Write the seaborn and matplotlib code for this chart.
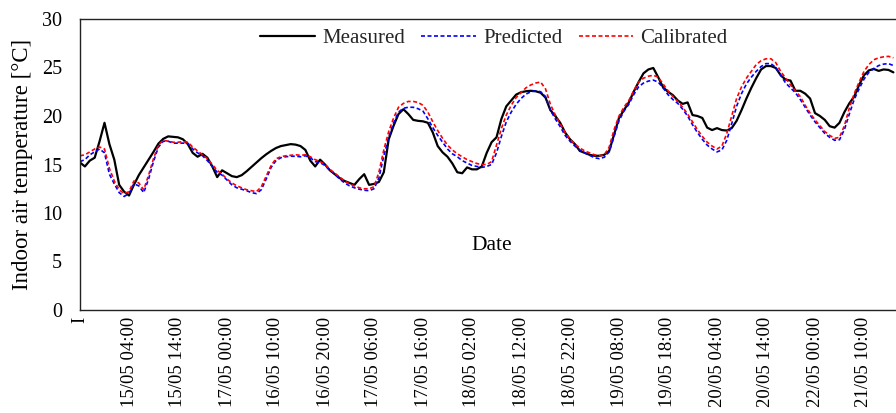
import matplotlib
matplotlib.use("Agg")
import matplotlib.pyplot as plt
import seaborn as sns
import pandas as pd
import numpy as np

# Hourly readings (hour index from the start of the record)
measured = [
    15.2, 14.8, 15.4, 15.7, 17.4, 19.3, 17.1, 15.5, 12.9, 12.2,
    11.8, 12.9, 13.9, 14.7, 15.5, 16.3, 17.15, 17.65, 17.9, 17.85,
    17.8, 17.6, 17.1, 16.2, 15.8, 16.1, 15.7, 14.8, 13.7, 14.4,
    14.1, 13.8, 13.7, 13.9, 14.3, 14.75, 15.2, 15.65, 16.05, 16.4,
    16.7, 16.9, 17.0, 17.1, 17.05, 16.9, 16.5, 15.4, 14.8, 15.5,
    15.0, 14.4, 14.0, 13.6, 13.3, 13.1, 12.9, 13.5, 14.0, 12.9,
    13.0, 13.2, 14.2, 17.6, 19.0, 20.2, 20.7, 20.2, 19.6, 19.5,
    19.45, 19.3, 18.3, 16.9, 16.25, 15.8, 15.1, 14.2, 14.1, 14.7,
    14.5, 14.5, 14.8, 16.2, 17.3, 17.8, 19.7, 21.0, 21.6, 22.2,
    22.45, 22.55, 22.6, 22.55, 22.4, 21.9, 20.6, 20.0, 19.3, 18.3,
    17.6, 17.1, 16.4, 16.2, 16.0, 15.9, 15.9, 16.0, 16.4, 18.1,
    19.8, 20.6, 21.4, 22.5, 23.5, 24.4, 24.8, 24.95, 24.0, 22.95,
    22.5, 22.15, 21.6, 21.25, 21.4, 20.1, 20.0, 19.8, 18.8, 18.55,
    18.75, 18.55, 18.5, 18.75, 19.5, 20.6, 21.8, 22.9, 23.9, 24.8,
    25.15, 25.15, 24.95, 24.2, 23.75, 23.65, 22.6, 22.6, 22.3, 21.8,
    20.3, 20.0, 19.6, 18.95, 18.8, 19.3, 20.4, 21.3, 22.0, 23.2,
    24.2, 24.7, 24.85, 24.65, 24.8, 24.75, 24.5,
]
predicted = [
    15.3, 15.5, 16.0, 16.3, 16.6, 16.2, 14.0, 13.0, 12.1, 11.7,
    12.0, 13.0, 12.8, 12.1, 13.5, 15.3, 16.8, 17.4, 17.4, 17.2,
    17.2, 17.2, 17.2, 16.6, 16.2, 15.9, 15.4, 14.8, 14.2, 13.9,
    13.4, 12.9, 12.6, 12.45, 12.3, 12.1, 12.0, 12.4, 13.5, 14.7,
    15.4, 15.7, 15.8, 15.85, 15.85, 15.8, 15.9, 15.7, 15.3, 15.2,
    14.9, 14.4, 14.0, 13.5, 13.1, 12.8, 12.6, 12.45, 12.35, 12.3,
    12.5, 13.6, 15.9, 17.8, 19.3, 20.4, 20.8, 20.9, 20.9, 20.75,
    20.5, 19.7, 18.8, 18.0, 17.3, 16.6, 16.1, 15.8, 15.4, 15.15,
    14.9, 14.8, 14.7, 14.8, 15.0, 16.2, 17.9, 19.4, 20.4, 21.2,
    21.8, 22.25, 22.5, 22.6, 22.5, 22.0, 20.6, 19.7, 18.9, 18.0,
    17.4, 16.9, 16.5, 16.2, 15.95, 15.7, 15.6, 15.75, 16.3, 17.9,
    19.5, 20.5, 21.2, 22.2, 23.0, 23.4, 23.6, 23.7, 23.5, 22.9,
    22.2, 21.7, 21.3, 20.7, 20.0, 19.1, 18.3, 17.6, 17.0, 16.6,
    16.3, 16.5, 17.5, 19.2, 21.0, 22.3, 23.3, 24.0, 24.6, 25.1,
    25.4, 25.4, 25.0, 24.2, 23.4, 22.9, 22.4, 21.7, 20.9, 20.1,
    19.4, 18.8, 18.2, 17.8, 17.5, 17.55, 18.6, 20.2, 21.7, 22.8,
    23.8, 24.5, 24.9, 25.2, 25.35, 25.4, 25.2,
]
calibrated = [
    15.9, 16.0, 16.3, 16.6, 16.8, 16.6, 14.6, 13.3, 12.4, 12.0,
    12.2, 13.3, 13.1, 12.4, 13.9, 15.6, 17.0, 17.5, 17.4, 17.3,
    17.3, 17.35, 17.3, 16.8, 16.4, 16.0, 15.6, 15.0, 14.4, 14.0,
    13.5, 13.1, 12.8, 12.6, 12.4, 12.3, 12.2, 12.7, 13.8, 14.9,
    15.6, 15.8, 15.9, 15.95, 16.0, 15.95, 16.0, 15.8, 15.5, 15.3,
    15.0, 14.5, 14.1, 13.7, 13.3, 13.0, 12.8, 12.6, 12.5, 12.5,
    12.7, 14.2, 16.5, 18.4, 19.8, 20.9, 21.3, 21.5, 21.5, 21.4,
    21.1, 20.4, 19.4, 18.5, 17.7, 17.0, 16.5, 16.1, 15.8, 15.5,
    15.3, 15.1, 15.0, 15.0, 15.3, 17.0, 18.7, 20.1, 21.1, 21.9,
    22.4, 22.9, 23.2, 23.4, 23.5, 22.8, 21.2, 20.1, 19.2, 18.3,
    17.6, 17.1, 16.7, 16.4, 16.2, 16.0, 15.9, 16.0, 16.8, 18.6,
    20.0, 20.9, 21.6, 22.6, 23.5, 23.9, 24.1, 24.2, 24.0, 23.3,
    22.6, 22.0, 21.5, 20.9, 20.2, 19.4, 18.6, 17.9, 17.3, 16.9,
    16.6, 16.9, 18.2, 20.0, 21.8, 23.0, 23.9, 24.6, 25.3, 25.7,
    25.9, 25.9, 25.5, 24.6, 23.9, 23.2, 22.6, 22.0, 21.1, 20.3,
    19.6, 19.0, 18.4, 18.0, 17.7, 17.8, 19.0, 20.8, 22.3, 23.5,
    24.6, 25.3, 25.8, 26.0, 26.1, 26.15, 26.0,
]

tick_hours = [0, 10, 20, 30, 40, 50, 60, 70, 80, 90, 100, 110, 120, 130, 140, 150, 160]
tick_labels = ["I", "15/05 04:00", "15/05 14:00", "17/05 00:00", "16/05 10:00",
               "16/05 20:00", "17/05 06:00", "17/05 16:00", "18/05 02:00",
               "18/05 12:00", "18/05 22:00", "19/05 08:00", "19/05 18:00",
               "20/05 04:00", "20/05 14:00", "22/05 00:00", "21/05 10:00"]

hours = np.arange(len(measured))
df = pd.DataFrame({"hour": hours, "Measured": measured,
                   "Predicted": predicted, "Calibrated": calibrated})

sns.set_theme(style="white")
plt.rcParams["font.family"] = ["Liberation Serif", "DejaVu Serif"]

W, H = 896, 413
fig = plt.figure(figsize=(W / 100, H / 100), dpi=100)
ax = fig.add_axes([80 / W, (H - 310) / H, (900 - 80) / W, 291 / H])

sns.lineplot(data=df, x="hour", y="Measured", ax=ax, color="black",
             linewidth=1.6, label="Measured")
sns.lineplot(data=df, x="hour", y="Predicted", ax=ax, color="#0000ff",
             linewidth=1.2, label="Predicted")
sns.lineplot(data=df, x="hour", y="Calibrated", ax=ax, color="#ff0000",
             linewidth=1.2, label="Calibrated")
for line in ax.lines[1:3]:
    line.set_dashes((2.4, 1.5))

ax.set_xlim(0, (900 - 80) / 4.9)
ax.set_ylim(0, 30)
ax.set_yticks(range(0, 31, 5))
ax.set_xticks(tick_hours)
ax.set_xticklabels(tick_labels, rotation=90, fontsize=13.5)
ax.tick_params(axis="y", length=0, pad=13, labelsize=14.5, labelcolor="black")
ax.tick_params(axis="x", length=0, pad=5, labelcolor="black")

ax.set_ylabel("Indoor air temperature [°C]", fontsize=16.5, color="black", labelpad=6)
ax.set_xlabel("Date", fontsize=15.5, color="black")
ax.xaxis.set_label_coords((492 - 80) / 820, (310 - 245) / 291)
ax.xaxis.label.set_va("center")

for s in ax.spines.values():
    s.set_color("#222222")
    s.set_linewidth(1.0)
    s.set_visible(True)

leg = ax.legend(loc="center", bbox_to_anchor=(494 / W, (H - 38) / H),
                bbox_transform=fig.transFigure, ncol=3, frameon=False,
                fontsize=15, handlelength=2.6, columnspacing=0.8,
                handletextpad=0.35)

fig.savefig("out.png", dpi=100)
